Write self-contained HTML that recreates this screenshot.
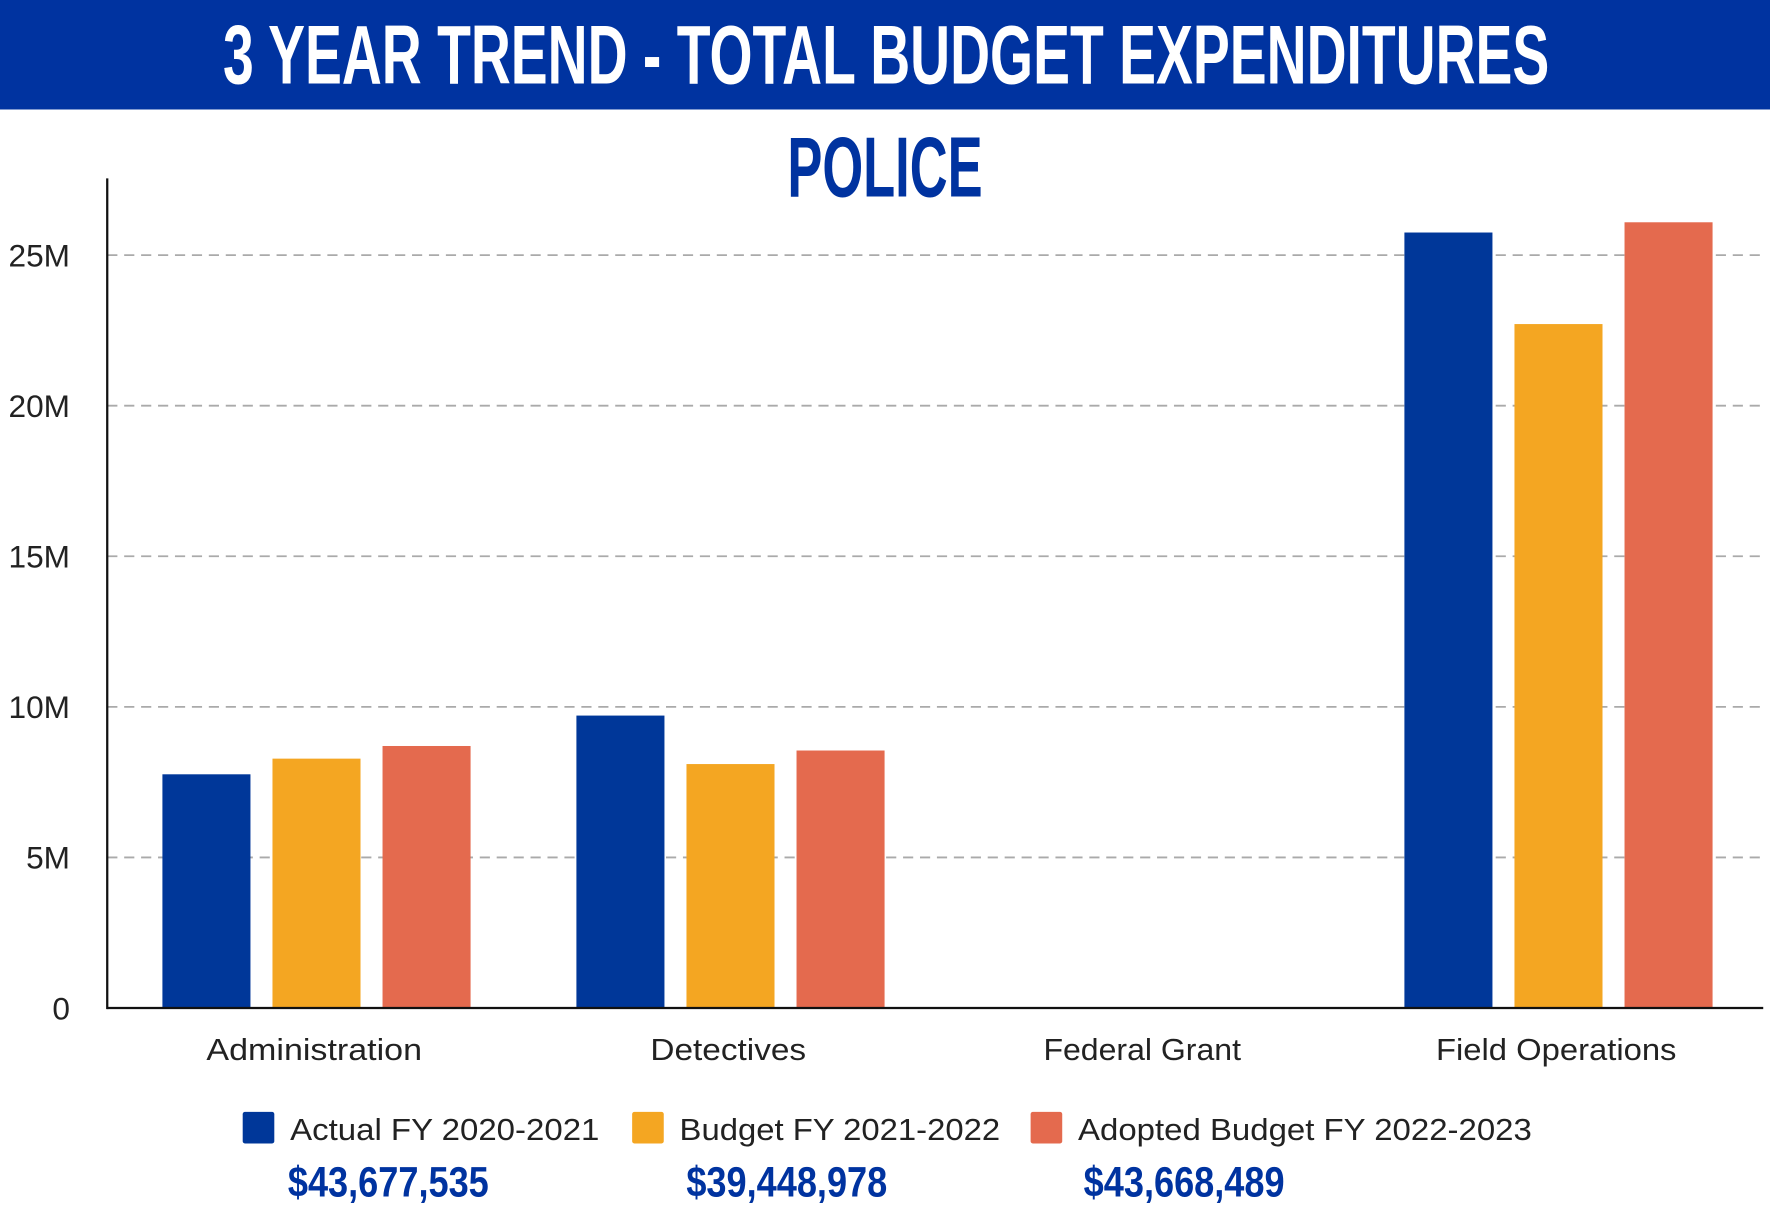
<!DOCTYPE html>
<html><head><meta charset="utf-8"><style>
html,body{margin:0;padding:0;background:#fff}
svg{display:block}
text{font-family:"Liberation Sans",sans-serif}
.cond{font-family:"Liberation Sans Narrow","Liberation Sans",sans-serif;font-weight:bold}
</style></head><body>
<svg id="chart" width="1770" height="1221" viewBox="0 0 1568 1081.7" preserveAspectRatio="none" xmlns="http://www.w3.org/2000/svg">
<rect x="0" y="0" width="1568" height="97" fill="#0033A0"/>
<text class="cond" x="785" y="74" text-anchor="middle" fill="#fff" font-size="74" textLength="1175" lengthAdjust="spacingAndGlyphs">3 YEAR TREND - TOTAL BUDGET EXPENDITURES</text>
<text class="cond" x="784" y="174" text-anchor="middle" fill="#0033A0" font-size="76" textLength="173" lengthAdjust="spacingAndGlyphs">POLICE</text>
<g id="grid"></g>
<g id="bars"></g>
<line x1="95" y1="158" x2="95" y2="894" stroke="#111" stroke-width="2"/>
<line x1="95" y1="893" x2="1562" y2="893" stroke="#111" stroke-width="2"/>
<g id="legend"></g>
</svg>
<script>
const categories = ["Administration","Detectives","Federal Grant","Field Operations"];
const actual2021 = [7.76, 9.71, 0, 25.75];
const budget2122 = [8.28, 8.10, 0, 22.71];
const adopted2223 = [8.70, 8.55, 0, 26.09];
const tickValues = [0,5,10,15,20,25];
const tickLabels = ["0","5M","10M","15M","20M","25M"];
const seriesNames = ["Actual FY 2020-2021","Budget FY 2021-2022","Adopted Budget FY 2022-2023"];
const seriesTotals = ["$43,677,535","$39,448,978","$43,668,489"];

const NS="http://www.w3.org/2000/svg";
const colors=["#003799","#F4A622","#E46A4E"];
const X0=95,X1=1562,Y0=893,PXPER=133.4/5;
const y=v=>Y0-v*PXPER;
const band=(X1-X0)/categories.length;
const xc=i=>X0+band*(i+0.5);
const catW=[191,138,175,213];
const legW=[274,284,402];
function mk(tag,attrs,parent,txt){const e=document.createElementNS(NS,tag);for(const k in attrs)e.setAttribute(k,attrs[k]);if(txt!==undefined)e.textContent=txt;parent.appendChild(e);return e;}
const grid=document.getElementById('grid');
tickValues.forEach((v,i)=>{
  if(v>0){const l=mk('line',{x1:X0,x2:1560,y1:y(v),y2:y(v),stroke:'#aaa','stroke-width':1.6,'stroke-dasharray':'9 6'},grid);
  
  }
  const t=mk('text',{x:62,y:y(v)+10,'text-anchor':'end','font-size':28,fill:'#222'},grid,tickLabels[i]);
  
  
});
const bars=document.getElementById('bars');
const series=[actual2021,budget2122,adopted2223];
const bw=78,step=97.5;
categories.forEach((c,i)=>{
  series.forEach((s,j)=>{
    if(s[i]<=0)return;
    const x=xc(i)+2+(j-1)*step-bw/2;
    const r=mk('rect',{x:x,y:y(s[i]),width:bw,height:Y0-y(s[i]),fill:colors[j]},bars);
    
    
  });
  const t=mk('text',{x:xc(i),y:939,'text-anchor':'middle','font-size':27,fill:'#222',textLength:catW[i],lengthAdjust:'spacingAndGlyphs'},bars,c);
  
  
});
const lg=document.getElementById('legend');
const lx=[215,560,913];
seriesNames.forEach((n,j)=>{
  const r=mk('rect',{x:lx[j],y:985,width:28,height:28,fill:colors[j],rx:2},lg);
  
  
  const t=mk('text',{x:lx[j]+42,y:1010,'font-size':27,fill:'#222',textLength:legW[j],lengthAdjust:'spacingAndGlyphs'},lg,n);
  
  
  const a=mk('text',{x:lx[j]+40+(j==2?7:0)+(j==1?8:0),y:1060,'font-size':38,fill:'#0033A0',class:'cond',textLength:178,lengthAdjust:'spacingAndGlyphs'},lg,seriesTotals[j]);
  
  
});
</script>
</body></html>
